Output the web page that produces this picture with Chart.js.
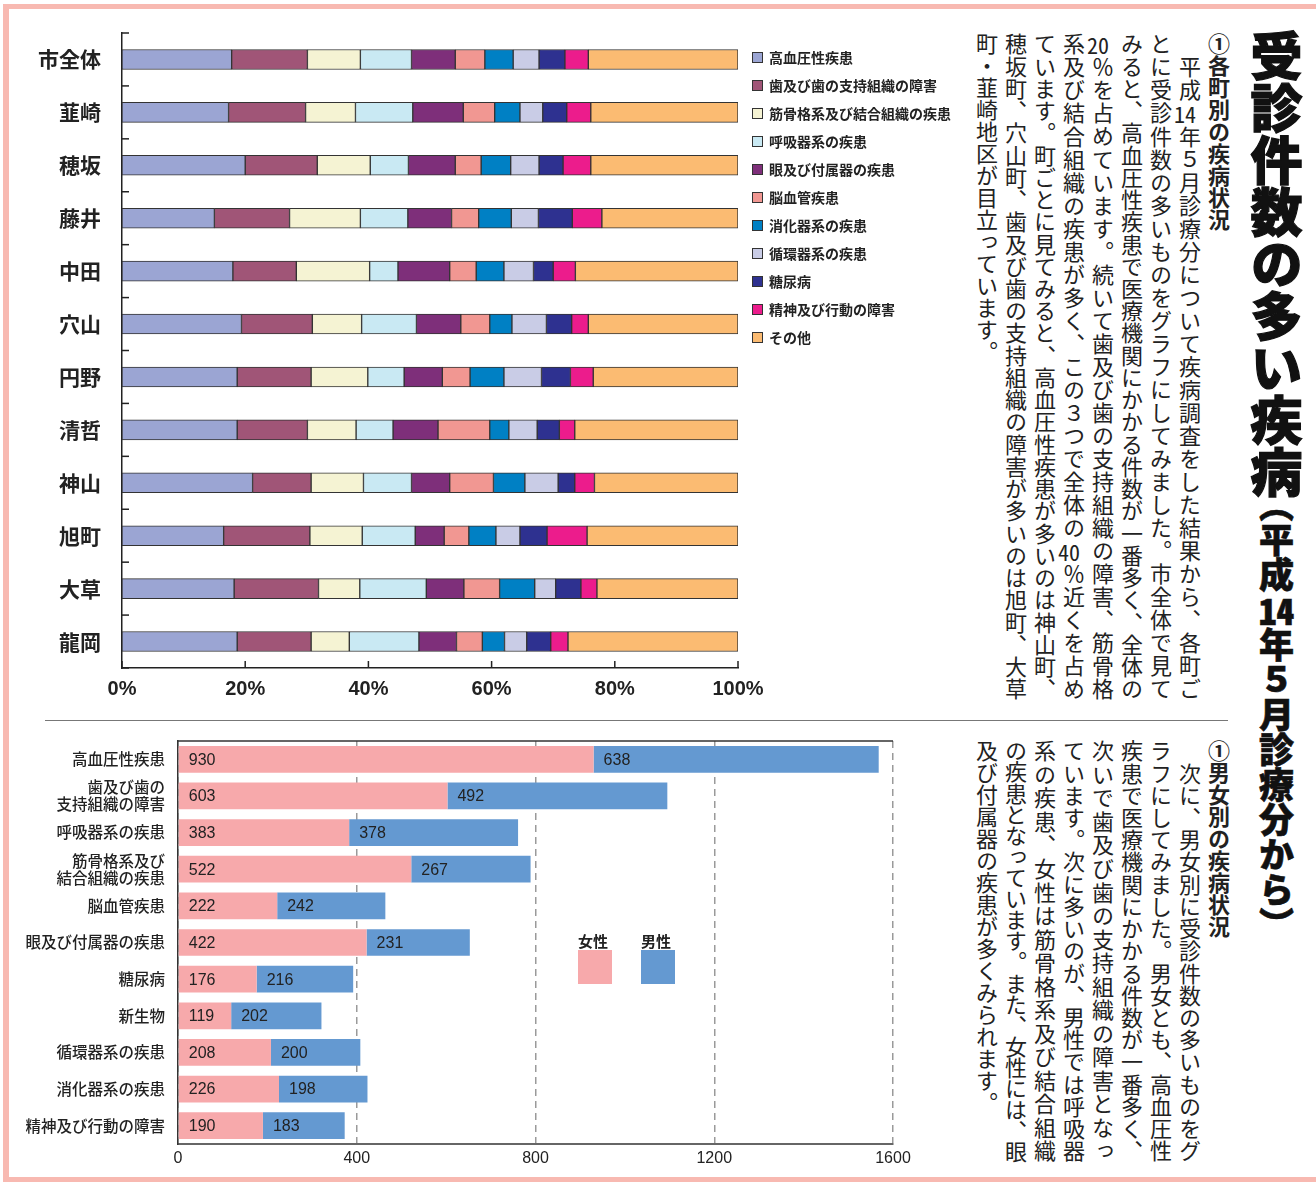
<!DOCTYPE html>
<html lang="ja">
<head>
<meta charset="utf-8">
<script src="https://cdn.jsdelivr.net/npm/chart.js@4.4.1/dist/chart.umd.min.js"></script>
<style>
  html, body { margin: 0; padding: 0; background: #fff; }
  body { width: 1316px; height: 1182px; position: relative; overflow: hidden; font-family: "Noto Sans CJK JP", sans-serif; color: #222; }
  .frame { position: absolute; background: #f8b9b1; }
  .divider { position: absolute; left: 45px; top: 720px; width: 1183px; height: 1px; background: #777; }
  #topWrap { position: absolute; left: 20px; top: 20px; }
  #bottomWrap { position: absolute; left: 20px; top: 728px; }
  .leg { position: absolute; left: 752px; height: 16px; font-size: 14px; font-weight: bold; line-height: 16px; white-space: nowrap; }
  .leg i { display: inline-block; width: 9px; height: 9px; border: 1px solid #333; margin-right: 6px; vertical-align: 0px; }
  .sex { position: absolute; font-size: 15px; font-weight: bold; line-height: 17px; }
  .sex i { display: block; width: 34px; height: 34px; margin-top: 1px; }
  .vt { position: absolute; writing-mode: vertical-rl; white-space: nowrap; }
  .body { font-size: 22px; line-height: 29px; }
  .ln { display: block; }
  .j { text-align-last: justify; text-align: justify; }
  .tcy { text-combine-upright: all; }
  .title { right: 12px; top: 30px; font-size: 52px; line-height: 56px; font-weight: 900; -webkit-text-stroke: 1.2px #111; color: #111; }
  .title .sub { font-size: 35px; margin-top: -11px; -webkit-text-stroke: 0.6px #111; }
</style>
</head>
<body>
<div class="frame" style="left:3px;top:4px;width:1313px;height:5px"></div>
<div class="frame" style="left:3px;top:4px;width:6px;height:1178px"></div>
<div class="frame" style="left:3px;top:1177px;width:1313px;height:5px"></div>
<div class="divider"></div>

<div id="topWrap"><canvas id="townChart" width="770" height="700"></canvas></div>
<div id="bottomWrap"><canvas id="sexChart" width="900" height="450"></canvas></div>
<div id="townLegend"></div>
<div id="sexLegend"></div>

<div class="vt title">受診件数の多い疾病<span class="sub">（平成<span class="tcy">14</span>年５月診療分から）</span></div>

<div class="vt body" style="right:83px;top:33px;height:667px">
<span class="ln"><b>①各町別の疾病状況</b></span>
<span class="ln j">　平成<span class="tcy">14</span>年５月診療分について疾病調査をした結果から、各町ご</span>
<span class="ln j">とに受診件数の多いものをグラフにしてみました。市全体で見て</span>
<span class="ln j">みると、高血圧性疾患で医療機関にかかる件数が一番多く、全体の</span>
<span class="ln j"><span class="tcy">20</span>％を占めています。続いて歯及び歯の支持組織の障害、筋骨格</span>
<span class="ln j">系及び結合組織の疾患が多く、この３つで全体の<span class="tcy">40</span>％近くを占め</span>
<span class="ln j">ています。町ごとに見てみると、高血圧性疾患が多いのは神山町、</span>
<span class="ln j">穂坂町、穴山町、歯及び歯の支持組織の障害が多いのは旭町、大草</span>
<span class="ln">町・韮崎地区が目立っています。</span>
</div>

<div class="vt body" style="right:83px;top:740px;height:422px">
<span class="ln"><b>①男女別の疾病状況</b></span>
<span class="ln j">　次に、男女別に受診件数の多いものをグ</span>
<span class="ln j">ラフにしてみました。男女とも、高血圧性</span>
<span class="ln j">疾患で医療機関にかかる件数が一番多く、</span>
<span class="ln j">次いで歯及び歯の支持組織の障害となっ</span>
<span class="ln j">ています。次に多いのが、男性では呼吸器</span>
<span class="ln j">系の疾患、女性は筋骨格系及び結合組織</span>
<span class="ln j" style="letter-spacing:-1px">の疾患となっています。また、女性には、眼</span>
<span class="ln">及び付属器の疾患が多くみられます。</span>
</div>

<script>
// ---- 各町別 (percent share) ----
const towns = ["市全体", "韮崎", "穂坂", "藤井", "中田", "穴山", "円野", "清哲", "神山", "旭町", "大草", "龍岡"];
const diseases = ["高血圧性疾患", "歯及び歯の支持組織の障害", "筋骨格系及び結合組織の疾患", "呼吸器系の疾患",
  "眼及び付属器の疾患", "脳血管疾患", "消化器系の疾患", "循環器系の疾患", "糖尿病", "精神及び行動の障害", "その他"];
const diseaseColors = ["#9ba5d3", "#a05577", "#f5f3d3", "#c9e9f3", "#7e2f7a", "#f19792",
  "#0080c4", "#c9cce6", "#2e3190", "#ec1c8c", "#fbbb72"];

const hypertension = [17.8, 17.3, 20.0, 15.0, 18.0, 19.4, 18.7, 18.7, 21.2, 16.5, 18.2, 18.7];
const dental       = [12.3, 12.5, 11.7, 12.2, 10.3, 11.5, 12.0, 11.4, 9.5, 14.0, 13.7, 12.0];
const musculo      = [8.6, 8.1, 8.6, 11.5, 11.9, 8.0, 9.2, 7.9, 8.5, 8.5, 6.7, 6.2];
const respiratory  = [8.3, 9.3, 6.2, 7.7, 4.6, 8.9, 5.9, 6.0, 7.8, 8.6, 10.8, 11.3];
const eye          = [7.1, 8.2, 7.6, 7.1, 8.4, 7.2, 6.2, 7.3, 6.2, 4.7, 6.1, 6.1];
const cerebro      = [4.8, 5.1, 4.2, 4.4, 4.3, 4.7, 4.5, 8.4, 7.1, 4.0, 5.8, 4.2];
const digestive    = [4.6, 4.1, 4.8, 5.3, 4.5, 3.6, 5.5, 3.1, 5.1, 4.4, 5.7, 3.6];
const circulatory  = [4.2, 3.7, 4.6, 4.4, 4.8, 5.6, 6.1, 4.6, 5.4, 3.9, 3.4, 3.6];
const diabetes     = [4.2, 3.9, 3.9, 5.5, 3.2, 4.1, 4.7, 3.6, 2.7, 4.4, 4.1, 3.9];
const mental       = [3.8, 3.9, 4.5, 4.8, 3.6, 2.7, 3.7, 2.5, 3.2, 6.5, 2.6, 2.8];
const others       = [24.3, 23.9, 23.9, 22.1, 26.4, 24.3, 23.5, 26.5, 23.3, 24.5, 22.9, 27.6];
const townShares = [hypertension, dental, musculo, respiratory, eye, cerebro, digestive, circulatory, diabetes, mental, others];
const pctTicks = [0, 20, 40, 60, 80, 100];

// ---- 男女別 (件数) ----
const sexCategories = ["高血圧性疾患", ["歯及び歯の", "支持組織の障害"], "呼吸器系の疾患", ["筋骨格系及び", "結合組織の疾患"],
  "脳血管疾患", "眼及び付属器の疾患", "糖尿病", "新生物", "循環器系の疾患", "消化器系の疾患", "精神及び行動の障害"];
const female = [930, 603, 383, 522, 222, 422, 176, 119, 208, 226, 190];
const male   = [638, 492, 378, 267, 242, 231, 216, 202, 200, 198, 183];
const countTicks = [0, 400, 800, 1200, 1600];
const sexNames = ["女性", "男性"];
const sexColors = ["#f7a9ab", "#6499d1"];

const jp = '"Noto Sans CJK JP", sans-serif';
const num = '"Liberation Sans", Arial, sans-serif';

// keep the plot area exactly where the axes' fixed sizes put it
function noScalePadding(s) {
  s.paddingTop = 0;
  s.paddingBottom = 0;
  s.paddingLeft = 0;
  s.paddingRight = 0;
}

// small tick marks drawn inside the plot, like the printed chart
const innerTicks = {
  id: "innerTicks",
  afterDraw(chart) {
    const { ctx, chartArea, scales: { x, y } } = chart;
    ctx.save();
    ctx.strokeStyle = "#222";
    ctx.lineWidth = 1.5;
    for (let i = 0; i <= towns.length; i++) {
      const py = y.getPixelForValue(i - 0.5);
      ctx.beginPath();
      ctx.moveTo(chartArea.left, py);
      ctx.lineTo(chartArea.left + 7, py);
      ctx.stroke();
    }
    pctTicks.forEach(v => {
      const px = x.getPixelForValue(v);
      ctx.beginPath();
      ctx.moveTo(px, chartArea.bottom);
      ctx.lineTo(px, chartArea.bottom - 7);
      ctx.stroke();
    });
    ctx.restore();
  }
};

new Chart(document.getElementById("townChart"), {
  type: "bar",
  data: {
    labels: towns,
    datasets: diseases.map((name, k) => ({
      label: name,
      data: townShares[k],
      backgroundColor: diseaseColors[k],
      borderColor: "#333",
      borderWidth: 1,
      borderSkipped: false,
      barThickness: 20
    }))
  },
  options: {
    indexAxis: "y",
    responsive: false,
    animation: false,
    layout: { autoPadding: false, padding: { top: 13, right: 52, left: 0, bottom: 0 } },
    plugins: { legend: { display: false }, tooltip: { enabled: false } },
    scales: {
      x: {
        stacked: true,
        min: 0,
        max: 100,
        afterFit: s => { s.height = 52; noScalePadding(s); },
        afterBuildTicks: s => { s.ticks = pctTicks.map(v => ({ value: v })); },
        grid: { display: false, drawTicks: false },
        border: { display: true, color: "#222", width: 1.5 },
        ticks: {
          padding: 9,
          color: "#222",
          font: { family: num, size: 20, weight: "bold" },
          callback: v => v + "%"
        }
      },
      y: {
        stacked: true,
        afterFit: s => { s.width = 102; noScalePadding(s); },
        grid: { display: false, drawTicks: false },
        border: { display: true, color: "#222", width: 1.5 },
        ticks: {
          autoSkip: false,
          padding: 21,
          color: "#222",
          font: { family: jp, size: 21, weight: "bold" }
        }
      }
    }
  },
  plugins: [innerTicks]
});

// legend for the stacked chart
const townLegend = document.getElementById("townLegend");
diseases.forEach((name, k) => {
  const d = document.createElement("div");
  d.className = "leg";
  d.style.top = (49 + k * 28) + "px";
  d.innerHTML = '<i style="background:' + diseaseColors[k] + '"></i>' + name;
  townLegend.appendChild(d);
});

// value labels at the start of each bar segment
const valueLabels = {
  id: "valueLabels",
  afterDatasetsDraw(chart) {
    const ctx = chart.ctx;
    ctx.save();
    ctx.font = "16px " + num;
    ctx.fillStyle = "#222";
    ctx.textAlign = "left";
    ctx.textBaseline = "middle";
    chart.data.datasets.forEach((ds, di) => {
      chart.getDatasetMeta(di).data.forEach((bar, i) => {
        const start = Math.min(bar.base, bar.x);
        ctx.fillText(String(ds.data[i]), start + 10, bar.y + 1);
      });
    });
    ctx.restore();
  }
};

const topBorder = {
  id: "topBorder",
  afterDraw(chart) {
    const { ctx, chartArea } = chart;
    ctx.save();
    ctx.strokeStyle = "#333";
    ctx.lineWidth = 1.5;
    ctx.beginPath();
    ctx.moveTo(chartArea.left, chartArea.top);
    ctx.lineTo(chartArea.right, chartArea.top);
    ctx.stroke();
    ctx.restore();
  }
};

new Chart(document.getElementById("sexChart"), {
  type: "bar",
  data: {
    labels: sexCategories,
    datasets: [
      { label: sexNames[0], data: female, backgroundColor: sexColors[0], borderWidth: 0, barPercentage: 0.73, categoryPercentage: 1 },
      { label: sexNames[1], data: male, backgroundColor: sexColors[1], borderWidth: 0, barPercentage: 0.73, categoryPercentage: 1 }
    ]
  },
  options: {
    indexAxis: "y",
    responsive: false,
    animation: false,
    layout: { autoPadding: false, padding: { top: 13, right: 27, left: 0, bottom: 0 } },
    plugins: { legend: { display: false }, tooltip: { enabled: false } },
    scales: {
      x: {
        stacked: true,
        min: 0,
        max: 1600,
        afterFit: s => { s.height = 34; noScalePadding(s); },
        afterBuildTicks: s => { s.ticks = countTicks.map(v => ({ value: v })); },
        grid: { color: "#9a9a9a", lineWidth: 1.5, drawTicks: false },
        border: { display: true, color: "#666", width: 2, dash: [7, 5] },
        ticks: { padding: 5, color: "#222", font: { family: num, size: 16 }, callback: v => String(v) }
      },
      y: {
        stacked: true,
        afterFit: s => { s.width = 158; noScalePadding(s); },
        grid: { display: false, drawTicks: false },
        border: { display: true, color: "#333", width: 1.5 },
        ticks: {
          autoSkip: false,
          padding: 13,
          color: "#222",
          font: { family: jp, size: 15.5, weight: "500", lineHeight: 1.1 }
        }
      }
    }
  },
  plugins: [valueLabels, topBorder]
});

// 女性 / 男性 key
const sexLegend = document.getElementById("sexLegend");
[578, 641].forEach((left, k) => {
  const d = document.createElement("div");
  d.className = "sex";
  d.style.left = left + "px";
  d.style.top = "932px";
  d.innerHTML = sexNames[k] + '<i style="background:' + sexColors[k] + '"></i>';
  sexLegend.appendChild(d);
});
</script>
</body>
</html>
